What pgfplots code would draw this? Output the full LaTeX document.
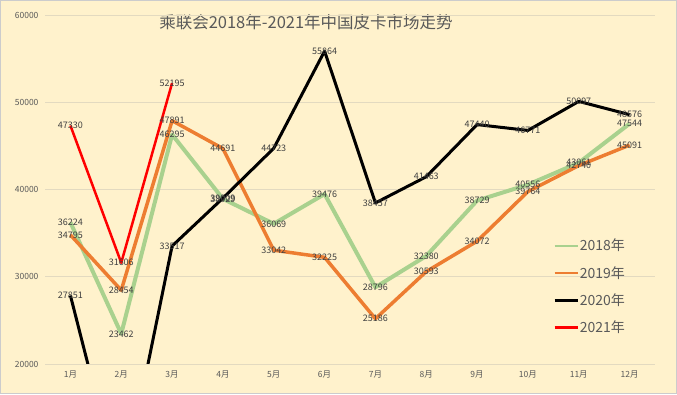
\documentclass[border=0pt]{standalone}
\usepackage{pgfplots}
\pgfplotsset{compat=1.18}
\usepackage{fontspec}
\setmainfont{Noto Sans CJK SC}
\definecolor{bg}{HTML}{FFF2CC}
\definecolor{gridc}{HTML}{E3DAC0}
\definecolor{tickc}{HTML}{595959}
\definecolor{labc}{HTML}{404040}
\definecolor{c18}{HTML}{A9D18E}
\definecolor{c19}{HTML}{ED7D31}
\definecolor{c20}{HTML}{000000}
\definecolor{c21}{HTML}{FF0000}
\begin{document}
\begin{tikzpicture}
\fill[bg] (0pt,0pt) rectangle (677pt,394pt);
\draw[gray!40] (0.5pt,0.5pt) rectangle (676.5pt,393.5pt);
\useasboundingbox (0pt,0pt) rectangle (677pt,394pt);
\node[text=tickc, font=\fontsize{16.5}{18}\selectfont] at (306pt,372pt) {乘联会2018年-2021年中国皮卡市场走势};
\begin{axis}[
  at={(45pt,30pt)}, anchor=south west, scale only axis,
  width=610pt, height=349pt,
  xmin=0.5, xmax=12.5, ymin=20000, ymax=60000,
  xtick={1,...,12},
  xticklabels={1月,2月,3月,4月,5月,6月,7月,8月,9月,10月,11月,12月},
  ytick={20000,30000,40000,50000,60000},
  scaled y ticks=false,
  yticklabel={\pgfmathprintnumber[fixed,precision=0,1000 sep={}]{\tick}},
  /pgf/number format/assume math mode=true,
  ymajorgrids, major grid style={gridc, line width=0.8pt},
  axis line style={draw=none},
  major tick length=0pt,
  tick label style={text=tickc, font=\fontsize{8.5}{10}\selectfont},
  yticklabel style={xshift=-3pt},
  xticklabel style={yshift=-3pt},
  point meta=explicit symbolic,
  nodes near coords,
  nodes near coords align={center},
  every node near coord/.append style={text=labc, font=\fontsize{9}{10}\selectfont, inner sep=0pt},
  legend style={at={(0.828,0.367)}, anchor=north west, draw=none, fill=none,
    font=\fontsize{14}{16}\selectfont, text=tickc, row sep=12pt,
    nodes={inner sep=1pt}},
  legend cell align=left,
  legend image code/.code={\draw[#1, line width=2.5pt] (0pt,0pt) -- (23pt,0pt);},
  line join=round,
]
\addplot[c18, line width=4pt, mark=none] coordinates {
 (1,36224) [36224] (2,23462) [23462] (3,46295) [46295] (4,38929) [38929]
 (5,36069) [36069] (6,39476) [39476] (7,28796) [28796] (8,32380) [32380]
 (9,38729) [38729] (10,40556) [40556] (11,43061) [43061] (12,47544) [47544]};
\addlegendentry{2018年}
\addplot[c19, line width=3.5pt, mark=none] coordinates {
 (1,34795) [34795] (2,28454) [28454] (3,47891) [47891] (4,44691) [44691]
 (5,33042) [33042] (6,32225) [32225] (7,25186) [25186] (8,30593) [30593]
 (9,34072) [34072] (10,39764) [39764] (11,42740) [42740] (12,45091) [45091]};
\addlegendentry{2019年}
\addplot[c20, line width=3pt, mark=none] coordinates {
 (1,27851) [27851] (2,5000) [] (3,33517) [33517] (4,39009) [39009]
 (5,44723) [44723] (6,55864) [55864] (7,38457) [38457] (8,41463) [41463]
 (9,47440) [47440] (10,46771) [46771] (11,50097) [50097] (12,48576) [48576]};
\addlegendentry{2020年}
\addplot[c21, line width=2.5pt, mark=none] coordinates {
 (1,47330) [47330] (2,31606) [31606] (3,52195) [52195]};
\addlegendentry{2021年}
\end{axis}
\end{tikzpicture}
\end{document}
